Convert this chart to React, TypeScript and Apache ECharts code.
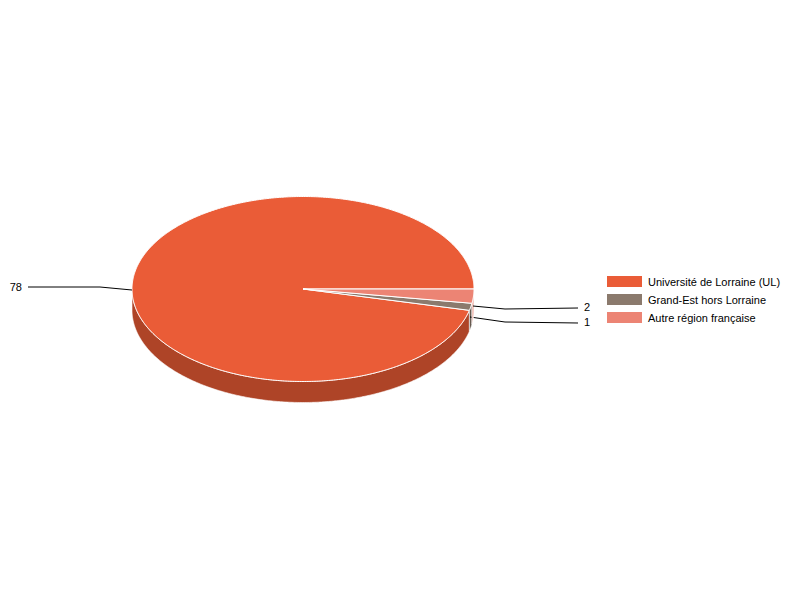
import React, { useEffect, useRef } from "react";
import * as echarts from "echarts";

const categories = ["Université de Lorraine (UL)", "Grand-Est hors Lorraine", "Autre région française"];
const sliceValues = [78, 1, 2];
const shownLabels = ["78", "1", "2"];
const topColors = ["#EA5C37", "#8B7A6D", "#EC8474"];
const wallColors = ["#AE4427", "#675A50", "#EFB5AC"];

const CX = 303, CY = 289, RX = 171, RY = 92.5, DEPTH = 21;
const labelLines: number[][][] = [
  [[132, 290], [100, 287], [28, 287]],
  [[470, 317], [505, 322], [578, 323]],
  [[473, 306], [505, 309], [578, 308]],
];
const labelPos: [number, number, "left" | "right"][] = [
  [22, 287, "right"],
  [584, 322, "left"],
  [584, 307, "left"],
];

const total = sliceValues.reduce((a, b) => a + b, 0);

// Slices run clockwise from 3 o'clock, last category first.
function sliceAngles(i: number): [number, number] {
  let start = 0;
  for (let k = sliceValues.length - 1; k > i; k--) start += (sliceValues[k] / total) * Math.PI * 2;
  return [start, start + (sliceValues[i] / total) * Math.PI * 2];
}
const pt = (t: number, dy = 0) => [CX + RX * Math.cos(t), CY + RY * Math.sin(t) + dy];
function arcPoints(a: number, b: number, dy = 0) {
  const n = Math.max(2, Math.ceil((b - a) / 0.01));
  const out: number[][] = [];
  for (let k = 0; k <= n; k++) out.push(pt(a + ((b - a) * k) / n, dy));
  return out;
}
const topPoints = (a: number, b: number) => [[CX, CY], ...arcPoints(a, b)];
function wallPoints(a: number, b0: number) {
  const b = Math.min(b0, Math.PI);
  return [...arcPoints(a, b), ...arcPoints(a, b, DEPTH).reverse()];
}

export default function App() {
  const ref = useRef<HTMLDivElement>(null);
  useEffect(() => {
    document.body.style.margin = "0";
    const chart = echarts.init(ref.current!, undefined, { renderer: "svg" });
    const font = '11px "Liberation Sans", Arial, sans-serif';
    chart.setOption({
      animation: false,
      backgroundColor: "#ffffff",
      legend: {
        left: 602,
        top: 271,
        orient: "vertical",
        icon: "rect",
        itemWidth: 35,
        itemHeight: 11,
        itemGap: 7,
        selectedMode: false,
        data: categories,
        textStyle: { color: "#000", fontSize: 11, fontFamily: '"Liberation Sans", Arial, sans-serif', padding: [0, 0, 0, 1] },
      },
      series: categories.map((name, i) => ({
        type: "custom",
        name,
        coordinateSystem: "none",
        silent: true,
        itemStyle: { color: topColors[i] },
        data: [[sliceValues[i]]],
        renderItem: () => {
          const [a, b] = sliceAngles(i);
          const children: any[] = [
            { type: "polygon", shape: { points: wallPoints(a, b) }, style: { fill: wallColors[i], stroke: "#fff", lineWidth: 0.6 } },
            { type: "polygon", shape: { points: topPoints(a, b) }, style: { fill: topColors[i], stroke: "#fff", lineWidth: 1 } },
            { type: "polyline", shape: { points: labelLines[i] }, style: { fill: "none", stroke: "#000", lineWidth: 1 } },
            { type: "text", style: { text: shownLabels[i], x: labelPos[i][0], y: labelPos[i][1], align: labelPos[i][2], verticalAlign: "middle", font, fill: "#000" } },
          ];
          return { type: "group", children };
        },
      })),
    });
    return () => chart.dispose();
  }, []);
  return <div ref={ref} style={{ width: 800, height: 600 }} />;
}
